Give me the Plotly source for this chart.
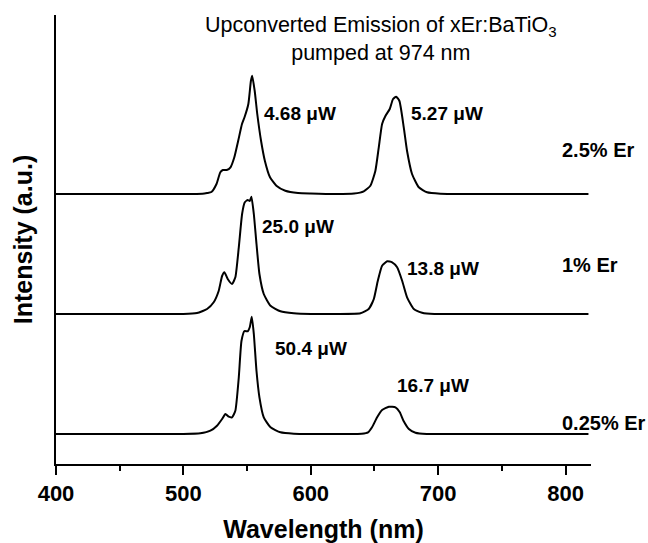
import plotly.graph_objects as go

# ---- data (intensity in a.u.) ----
wl_25 = [400, 450, 500, 515, 518.6, 522, 526, 529, 531, 534, 537, 540, 543, 546, 548, 551, 553, 554, 556, 558,
         561, 564, 568, 573, 580, 590, 600, 620, 634, 641.6, 646.8, 650.7, 653.4, 656, 658.6, 662, 664.6,
         667, 669.6, 673, 675.6, 679.5, 684.8, 691.3, 701.8, 720, 760, 818]
int_25 = [0, 0, 0, 0.3, 1, 2, 10, 21.7, 24, 24, 26.7, 36.7, 53, 70, 76.7, 90, 113, 118.3, 103, 80,
          53, 33, 16.7, 8.3, 3.3, 1, 0.5, 0, 0.5, 2.7, 8.3, 23, 46.7, 70, 78, 85, 95,
          97.3, 93, 66.7, 43, 20, 6.7, 1.7, 0.3, 0, 0, 0]

wl_10 = [400, 450, 500, 510.7, 518.6, 523.8, 527.7, 530.4, 532.2, 534.8, 538.2, 540.8, 543.5, 546.1, 548.2,
         550.5, 552.1, 553.4, 555.3, 557.4, 559.7, 563.1, 568.4, 576.2, 586.7, 600, 620, 639, 645.5, 649.5,
         652.6, 656, 660, 663.9, 667.8, 671.8, 675.6, 680.9, 687.4, 697, 720, 760, 818]
int_10 = [0, 0, 0, 1, 5, 11.7, 23, 38, 41.7, 35, 30, 36.7, 66.7, 100, 111.7,
          114, 113, 117.3, 100, 70, 40, 20, 8.3, 2.7, 0.7, 0, 0, 0.7, 5, 15,
          33, 48.3, 52.7, 51.7, 46.7, 33, 16.7, 5, 1.3, 0, 0, 0, 0]

wl_025 = [400, 450, 500, 513.3, 521.2, 526.4, 530.4, 533, 535.6, 538.2, 540.8, 543.5, 545.6, 548, 550.5,
          552.1, 553.7, 555.3, 557.4, 559.7, 563.1, 568.4, 576.2, 586.7, 600, 620, 640, 645, 648.1, 652.1,
          656, 661.3, 666.5, 669.9, 673, 677, 682.2, 691, 720, 760, 818]
int_025 = [0, 0, 0, 0.7, 3.3, 8.3, 15, 20, 17.3, 16.7, 23.3, 56.7, 93, 103, 102.7,
           106.7, 117.3, 100, 63, 36.7, 16.7, 6.7, 1.7, 0.3, 0, 0, 0.3, 1.7, 6.7, 16.7,
           24, 27.3, 26.7, 21.7, 12.7, 5, 1.3, 0, 0, 0, 0]

series_names = ["2.5% Er", "1% Er", "0.25% Er"]
offsets = [270, 150, 30]

power_labels = [["4.68 μW", "5.27 μW"], ["25.0 μW", "13.8 μW"], ["50.4 μW", "16.7 μW"]]
power_pos = [[(562, 351), (677, 351)], [(560, 238), (674, 196)], [(570, 116), (666, 79)]]
name_pos = [(796, 314), (796, 199), (796, 41)]

x_ticks = [400, 500, 600, 700, 800]
x_minor = [450, 550, 650, 750]

FONT = "Liberation Sans, Arial, sans-serif"

fig = go.Figure()
series = [(wl_25, int_25), (wl_10, int_10), (wl_025, int_025)]
for (wl, it), off, name in zip(series, offsets, series_names):
    fig.add_trace(go.Scatter(
        x=wl, y=[v + off for v in it], mode="lines", name=name,
        line=dict(color="black", width=2, shape="spline", smoothing=0.5),
        showlegend=False))

bold = dict(family=FONT, size=19, color="black", weight="bold")
ann = []
for labels, poss in zip(power_labels, power_pos):
    for lab, (px, py) in zip(labels, poss):
        ann.append(dict(x=px, y=py, xref="x", yref="y", text=lab, showarrow=False,
                        xanchor="left", yanchor="middle", font=bold))
for name, (px, py) in zip(series_names, name_pos):
    ann.append(dict(x=px, y=py, xref="x", yref="y", text=name, showarrow=False,
                    xanchor="left", yanchor="middle", font=dict(bold, size=20)))
ann.append(dict(x=655.5, y=425, xref="x", yref="y",
                text="Upconverted Emission of xEr:BaTiO<sub>3</sub><br>pumped at 974 nm",
                showarrow=False, xanchor="center", yanchor="middle", align="center",
                font=dict(family=FONT, size=21.5, color="black")))

fig.update_layout(
    width=648, height=543,
    margin=dict(l=56, r=57, t=15, b=79),
    paper_bgcolor="white", plot_bgcolor="white",
    annotations=ann,
    xaxis=dict(range=[400, 820], tickvals=x_ticks, ticks="outside", ticklen=9, tickwidth=2,
               tickcolor="black", showline=True, linecolor="black", linewidth=2,
               showgrid=False, zeroline=False, automargin=False,
               minor=dict(tickvals=x_minor, ticks="outside", ticklen=5,
                          tickwidth=2, tickcolor="black"),
               tickfont=dict(family=FONT, size=22, color="black", weight="bold"),
               title=dict(text="Wavelength (nm)", standoff=22,
                          font=dict(family=FONT, size=25, color="black", weight="bold"))),
    yaxis=dict(range=[0, 449], showline=True, linecolor="black", linewidth=2, showgrid=False,
               zeroline=False, showticklabels=False, ticks="", automargin=False,
               title=dict(text="Intensity (a.u.)", standoff=14,
                          font=dict(family=FONT, size=25, color="black", weight="bold"))),
)

fig.write_html("out.html")
